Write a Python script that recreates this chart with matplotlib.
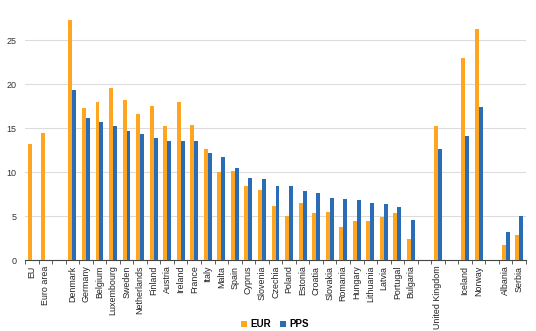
import matplotlib
matplotlib.use("Agg")
import matplotlib.pyplot as plt
import numpy as np
from matplotlib.patches import Patch

plt.rcParams["font.family"] = ["Liberation Sans", "DejaVu Sans"]

# "" marks an empty separator slot between country groups
COUNTRIES = ["EU", "Euro area", "",
             "Denmark", "Germany", "Belgium", "Luxembourg", "Sweden", "Netherlands",
             "Finland", "Austria", "Ireland", "France", "Italy", "Malta", "Spain",
             "Cyprus", "Slovenia", "Czechia", "Poland", "Estonia", "Croatia",
             "Slovakia", "Romania", "Hungary", "Lithuania", "Latvia", "Portugal",
             "Bulgaria", "", "United Kingdom", "", "Iceland", "Norway", "",
             "Albania", "Serbia"]
EUR = [13.2, 14.5, None,
       27.3, 17.3, 18.0, 19.6, 18.2, 16.6,
       17.5, 15.3, 18.0, 15.4, 12.6, 10.0, 10.1,
       8.4, 8.0, 6.2, 5.0, 6.5, 5.4,
       5.5, 3.7, 4.4, 4.4, 4.9, 5.4,
       2.4, None, 15.2, None, 23.0, 26.3, None,
       1.7, 2.8]
PPS = [None, None, None,
       19.3, 16.2, 15.7, 15.2, 14.7, 14.3,
       13.9, 13.6, 13.5, 13.5, 12.2, 11.7, 10.5,
       9.3, 9.2, 8.4, 8.4, 7.9, 7.6,
       7.1, 6.9, 6.8, 6.5, 6.4, 6.0,
       4.6, None, 12.6, None, 14.1, 17.4, None,
       3.2, 5.0]

C_EUR = "#FFA51F"
C_PPS = "#2B6CB6"

fig = plt.figure(figsize=(5.36, 3.31), dpi=100)
ax = fig.add_axes([25 / 536, 1 - 260 / 331, 501 / 536, 246 / 331])

x = np.arange(len(COUNTRIES))
w = 0.29
eur = np.array([np.nan if v is None else v for v in EUR])
pps = np.array([np.nan if v is None else v for v in PPS])
ax.bar(x - w / 2, eur, w, color=C_EUR, zorder=3)
ax.bar(x + w / 2, pps, w, color=C_PPS, zorder=3)

ax.set_xlim(-0.5, len(COUNTRIES) - 0.5)
ax.set_ylim(0, 28)
ax.set_yticks([0, 5, 10, 15, 20, 25])
ax.yaxis.grid(True, color="#dcdcdc", linewidth=0.8, zorder=0)
ax.tick_params(axis="y", length=0, labelsize=6.5, colors="#333333", pad=6)

ax.set_xticks(x)
ax.set_xticklabels(COUNTRIES, rotation=90, fontsize=6.4, color="#222222")
ax.tick_params(axis="x", which="major", length=0, pad=4)
ax.set_xticks(np.arange(-0.5, len(COUNTRIES)), minor=True)
ax.tick_params(axis="x", which="minor", length=3, color="#444444", width=0.6)

for s in ("top", "right", "left"):
    ax.spines[s].set_visible(False)
ax.spines["bottom"].set_color("#444444")
ax.spines["bottom"].set_linewidth(0.8)

handles = [Patch(facecolor=C_EUR, label="EUR"), Patch(facecolor=C_PPS, label="PPS")]
fig.legend(handles=handles, loc="center", bbox_to_anchor=(0.513, 0.02), ncol=2,
           frameon=False, handlelength=0.6, handleheight=0.6, handletextpad=0.3,
           columnspacing=1.0, prop={"size": 7, "weight": "bold"})

fig.savefig("out.png", dpi=100)
